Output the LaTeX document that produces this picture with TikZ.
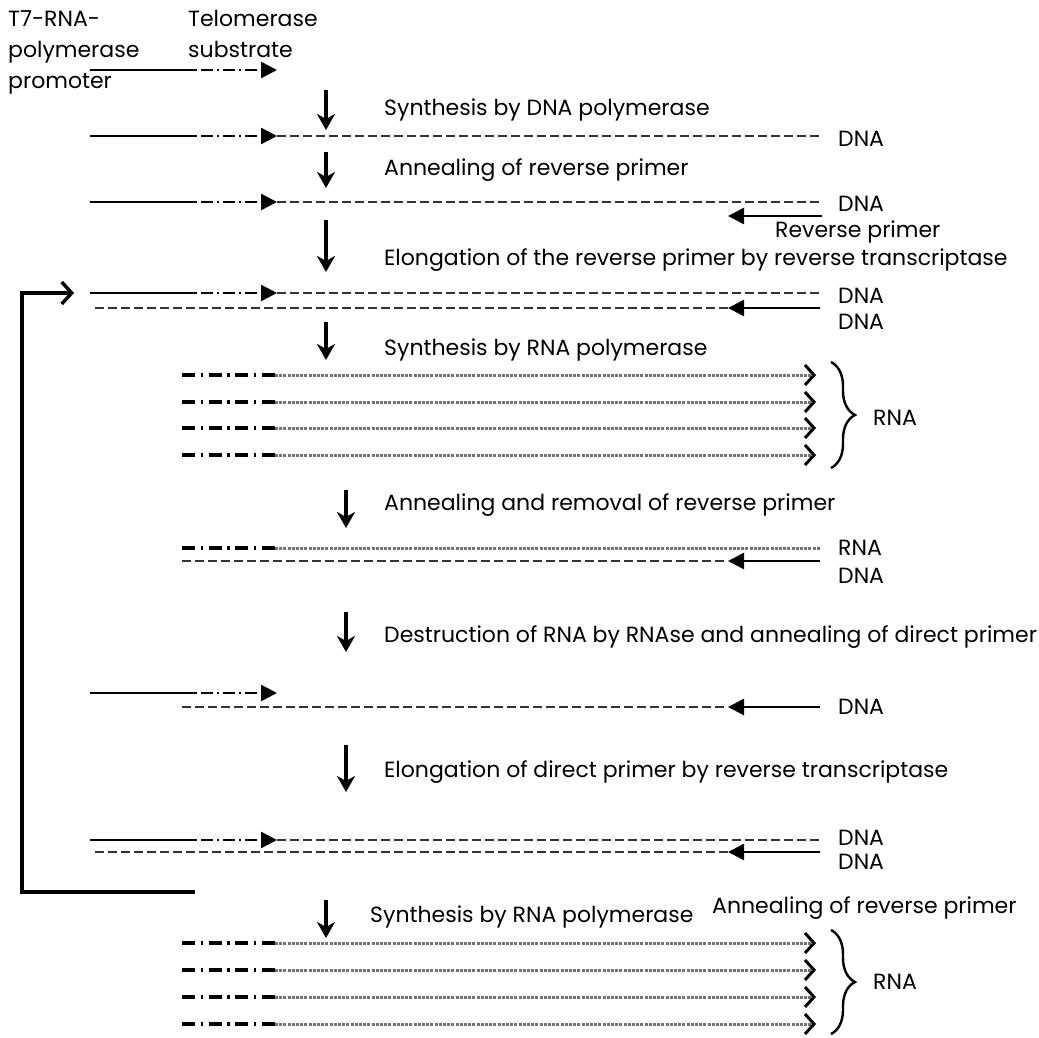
\documentclass[tikz,border=0pt]{standalone}
\usepackage{fontspec}
\setmainfont{Poppins}
\usetikzlibrary{arrows.meta,decorations.pathreplacing}

\begin{document}
\begin{tikzpicture}[x=1pt,y=-1pt,
    every node/.style={inner sep=0pt, font=\fontsize{22}{30}\selectfont},
    lbl/.style={anchor=west},
    top/.style={anchor=base west},
    strand/.style={line width=2.6pt},
    promdash/.style={line width=2.6pt, dash pattern=on 2pt off 4pt on 12pt off 4pt},
    dnadash/.style={line width=2.6pt, black!80, dash pattern=on 9pt off 4pt},
    rnahead/.style={line width=3.6pt, dash pattern=on 13pt off 5.5pt on 2.5pt off 5.5pt},
    rnadot/.style={line width=3pt, black!55, dash pattern=on 3pt off 1.2pt},
    tri/.style={-{Triangle[length=16pt,width=16pt]}},
    barb/.style={-{Straight Barb[length=9pt,width=20pt,line width=3pt,color=black]}},
    flow/.style={line width=3.4pt, -{Stealth[length=16pt,width=18pt,inset=5pt]}},
    rnabrace/.style={line width=2.4pt, decorate, decoration={brace,amplitude=24pt}}]
  \useasboundingbox (0,0) rectangle (1039,1038);

  % labels on top
  \node[top] (t7a) at (8,27) {T7-RNA-};
  \node[top] (t7b) at (8,58) {polymerase};
  \node[top] (t7c) at (8,89) {promoter};
  \node[top] (suba) at (188,27) {Telomerase};
  \node[top] (subb) at (188,58) {substrate};

  % upper strands: promoter + substrate
  \foreach \n/\y in {t0/70,t1/136,t2/202,t3/293,t6/693,t7/840}{
    \coordinate (\n a) at (90,\y);
    \coordinate (\n b) at (195,\y);
    \coordinate (\n c) at (277,\y);
    \coordinate (\n e) at (820,\y);
    \draw[strand] (\n a) -- (\n b);
    \draw[promdash,tri] (\n b) -- (\n c);
  }
  \foreach \n in {t1,t2,t3,t7}
    \draw[dnadash] (\n c) -- (\n e);

  % lower strands with reverse primer
  \coordinate (b2m) at (728,216);
  \coordinate (b2e) at (822,216);
  \draw[strand,tri] (b2e) -- (b2m);
  \foreach \n/\x/\y in {b3/95/308,b5/182/561,b6/182/707,b7/95/852}{
    \coordinate (\n s) at (\x,\y);
    \coordinate (\n m) at (728,\y);
    \coordinate (\n e) at (820,\y);
    \draw[dnadash] (\n s) -- (\n m);
    \draw[strand,tri] (\n e) -- (\n m);
  }

  % RNA
  \coordinate (r0s) at (182,548);
  \coordinate (r0m) at (275,548);
  \coordinate (r0e) at (820,548);
  \draw[rnahead] (r0s) -- (r0m);
  \draw[rnadot] (r0m) -- (r0e);
  \foreach \i/\y in {1/375,2/402,3/428,4/455,5/943,6/970,7/997,8/1024}{
    \coordinate (r\i s) at (182,\y);
    \coordinate (r\i m) at (275,\y);
    \coordinate (r\i e) at (816,\y);
    \draw[rnahead] (r\i s) -- (r\i m);
    \draw[rnadot,barb] (r\i m) -- (r\i e);
  }
  \coordinate (g1t) at (831,362);
  \coordinate (g1b) at (831,468);
  \coordinate (g2t) at (831,930);
  \coordinate (g2b) at (831,1034);
  \draw[rnabrace] (g1t) -- (g1b);
  \draw[rnabrace] (g2t) -- (g2b);

  % cycle back
  \coordinate (loopend) at (195,892);
  \coordinate (loopcorner) at (22,892);
  \coordinate (looptop) at (22,293);
  \coordinate (loopin) at (74,293);
  \draw[line width=4pt, -{Straight Barb[length=10pt,width=22pt,line width=3.4pt]}]
    (loopend) -- (loopcorner) -- (looptop) -- (loopin);

  % step arrows
  \foreach \n/\x/\ya/\yb in {1/326/90/130,2/326/152/188,3/326/220/272,4/326/322/360,
                             5/346/490/528,6/346/612/652,7/346/745/792,8/326/900/938}{
    \coordinate (d\n a) at (\x,\ya);
    \coordinate (d\n b) at (\x,\yb);
    \draw[flow] (d\n a) -- (d\n b);
  }

  % step texts
  \node[lbl] (s1) at (384,110) {Synthesis by DNA polymerase};
  \node[lbl] (s2) at (384,170) {Annealing of reverse primer};
  \node[lbl] (s3) at (384,260) {Elongation of the reverse primer by reverse transcriptase};
  \node[lbl] (s4) at (384,350) {Synthesis by RNA polymerase};
  \node[lbl] (s5) at (384,505) {Annealing and removal of reverse primer};
  \node[lbl] (s6) at (384,637) {Destruction of RNA by RNAse and annealing of direct primer};
  \node[lbl] (s7) at (384,772) {Elongation of direct primer by reverse transcriptase};
  \node[lbl] (s8) at (370,917) {Synthesis by RNA polymerase};
  \node[lbl] (s9) at (712,908) {Annealing of reverse primer};

  % strand names
  \node[lbl] (n1) at (838,139) {DNA};
  \node[lbl] (n2) at (838,204) {DNA};
  \node[lbl] (n2p) at (775,232) {Reverse primer};
  \node[lbl] (n3a) at (838,296) {DNA};
  \node[lbl] (n3b) at (838,322) {DNA};
  \node[lbl] (n4) at (873,418) {RNA};
  \node[lbl] (n5a) at (838,548) {RNA};
  \node[lbl] (n5b) at (838,576) {DNA};
  \node[lbl] (n6) at (838,707) {DNA};
  \node[lbl] (n7a) at (838,838) {DNA};
  \node[lbl] (n7b) at (838,862) {DNA};
  \node[lbl] (n8) at (873,982) {RNA};
\end{tikzpicture}
\end{document}
